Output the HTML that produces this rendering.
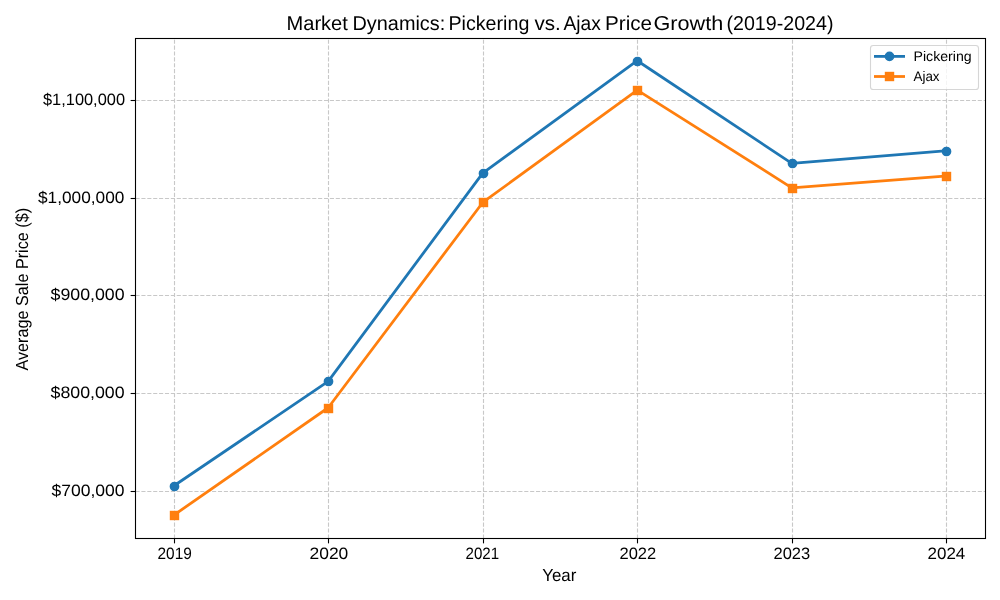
<!DOCTYPE html><html><head><meta charset="utf-8"><style>html,body{margin:0;padding:0;background:#fff;width:1000px;height:600px;overflow:hidden}svg{display:block;will-change:transform}text{font-family:"Liberation Sans", sans-serif;fill:#000;text-rendering:geometricPrecision}</style></head><body>
<svg width="1000" height="600" viewBox="0 0 1000 600">
<rect x="0" y="0" width="1000" height="600" fill="#fff"/>
<g stroke="#c8c8c8" stroke-width="1.11" stroke-dasharray="4.11 1.78" fill="none"><line x1="174.50" y1="538.5" x2="174.50" y2="38.5"/><line x1="328.50" y1="538.5" x2="328.50" y2="38.5"/><line x1="483.50" y1="538.5" x2="483.50" y2="38.5"/><line x1="637.50" y1="538.5" x2="637.50" y2="38.5"/><line x1="792.50" y1="538.5" x2="792.50" y2="38.5"/><line x1="946.50" y1="538.5" x2="946.50" y2="38.5"/><line x1="135.5" y1="491.50" x2="985.5" y2="491.50"/><line x1="135.5" y1="393.50" x2="985.5" y2="393.50"/><line x1="135.5" y1="295.50" x2="985.5" y2="295.50"/><line x1="135.5" y1="198.50" x2="985.5" y2="198.50"/><line x1="135.5" y1="100.50" x2="985.5" y2="100.50"/></g>
<polyline points="173.64,485.95 328.18,381.35 482.73,173.14 637.27,60.73 791.82,163.37 946.36,150.66" fill="none" stroke="#1f77b4" stroke-width="2.78" stroke-linejoin="round" stroke-linecap="square"/>
<g fill="#1f77b4" stroke="#1f77b4" stroke-width="1.39"><circle cx="174.50" cy="486.50" r="4.17"/><circle cx="328.50" cy="381.50" r="4.17"/><circle cx="483.50" cy="173.50" r="4.17"/><circle cx="637.50" cy="61.50" r="4.17"/><circle cx="792.50" cy="163.50" r="4.17"/><circle cx="946.50" cy="151.50" r="4.17"/></g>
<polyline points="173.64,515.27 328.18,407.75 482.73,202.47 637.27,90.05 791.82,187.80 946.36,176.07" fill="none" stroke="#ff7f0e" stroke-width="2.78" stroke-linejoin="round" stroke-linecap="square"/>
<g fill="#ff7f0e" stroke="#ff7f0e" stroke-width="0.4"><rect x="170.00" y="511.00" width="9" height="9"/><rect x="324.00" y="404.00" width="9" height="9"/><rect x="479.00" y="198.00" width="9" height="9"/><rect x="633.00" y="86.00" width="9" height="9"/><rect x="788.00" y="184.00" width="9" height="9"/><rect x="942.00" y="172.00" width="9" height="9"/></g>
<rect x="135.50" y="38.50" width="850.00" height="500.00" fill="none" stroke="#000" stroke-width="1.10"/>
<g stroke="#000" stroke-width="1.10"><line x1="174.50" y1="538.50" x2="174.50" y2="543.36"/><line x1="328.50" y1="538.50" x2="328.50" y2="543.36"/><line x1="483.50" y1="538.50" x2="483.50" y2="543.36"/><line x1="637.50" y1="538.50" x2="637.50" y2="543.36"/><line x1="792.50" y1="538.50" x2="792.50" y2="543.36"/><line x1="946.50" y1="538.50" x2="946.50" y2="543.36"/><line x1="130.64" y1="491.50" x2="135.50" y2="491.50"/><line x1="130.64" y1="393.50" x2="135.50" y2="393.50"/><line x1="130.64" y1="295.50" x2="135.50" y2="295.50"/><line x1="130.64" y1="198.50" x2="135.50" y2="198.50"/><line x1="130.64" y1="100.50" x2="135.50" y2="100.50"/></g>
<rect x="870.50" y="45.50" width="108.00" height="44.00" rx="2.78" ry="2.78" fill="#fff" fill-opacity="0.8" stroke="#cccccc" stroke-opacity="0.8" stroke-width="1.11"/>
<line x1="874.00" y1="56.40" x2="905.00" y2="56.40" stroke="#1f77b4" stroke-width="2.78"/>
<circle cx="889.50" cy="56.40" r="4.17" fill="#1f77b4" stroke="#1f77b4" stroke-width="1.39"/>
<line x1="874.00" y1="76.50" x2="905.00" y2="76.50" stroke="#ff7f0e" stroke-width="2.78"/>
<rect x="885.00" y="72.00" width="9" height="9" fill="#ff7f0e" stroke="#ff7f0e" stroke-width="0.4"/>
<text x="286.50" y="29.93" font-size="20.00" textLength="61.34" lengthAdjust="spacingAndGlyphs">Market</text>
<text x="352.50" y="29.93" font-size="20.00" textLength="92.74" lengthAdjust="spacingAndGlyphs">Dynamics:</text>
<text x="448.50" y="29.93" font-size="20.00" textLength="80.82" lengthAdjust="spacingAndGlyphs">Pickering</text>
<text x="534.50" y="29.93" font-size="20.00" textLength="26.30" lengthAdjust="spacingAndGlyphs">vs.</text>
<text x="563.50" y="29.93" font-size="20.00" textLength="37.27" lengthAdjust="spacingAndGlyphs">Ajax</text>
<text x="605.00" y="29.93" font-size="20.00" textLength="47.06" lengthAdjust="spacingAndGlyphs">Price</text>
<text x="653.50" y="29.93" font-size="20.00" textLength="69.68" lengthAdjust="spacingAndGlyphs">Growth</text>
<text x="726.50" y="29.93" font-size="20.00" textLength="106.92" lengthAdjust="spacingAndGlyphs">(2019-2024)</text>
<text x="51.50" y="496.40" font-size="16.50" textLength="73.10" lengthAdjust="spacingAndGlyphs">$700,000</text>
<text x="50.50" y="398.40" font-size="16.50" textLength="74.11" lengthAdjust="spacingAndGlyphs">$800,000</text>
<text x="50.50" y="300.40" font-size="16.50" textLength="74.11" lengthAdjust="spacingAndGlyphs">$900,000</text>
<text x="38.00" y="203.40" font-size="16.50" textLength="86.42" lengthAdjust="spacingAndGlyphs">$1,000,000</text>
<text x="43.00" y="105.40" font-size="16.50" textLength="82.00" lengthAdjust="spacingAndGlyphs">$1,100,000</text>
<text x="157.50" y="558.60" font-size="16.50" textLength="34.29" lengthAdjust="spacingAndGlyphs">2019</text>
<text x="309.50" y="558.60" font-size="16.50" textLength="38.80" lengthAdjust="spacingAndGlyphs">2020</text>
<text x="465.50" y="558.60" font-size="16.50" textLength="33.58" lengthAdjust="spacingAndGlyphs">2021</text>
<text x="619.50" y="558.60" font-size="16.50" textLength="36.73" lengthAdjust="spacingAndGlyphs">2022</text>
<text x="773.50" y="558.60" font-size="16.50" textLength="36.72" lengthAdjust="spacingAndGlyphs">2023</text>
<text x="927.50" y="558.60" font-size="16.50" textLength="37.80" lengthAdjust="spacingAndGlyphs">2024</text>
<text x="542.25" y="580.85" font-size="17.40" textLength="34.12" lengthAdjust="spacingAndGlyphs">Year</text>
<text x="27.90" y="370.50" font-size="17.40" textLength="162.61" lengthAdjust="spacingAndGlyphs" transform="rotate(-90 27.90 370.50)">Average Sale Price ($)</text>
<text x="913.50" y="60.90" font-size="13.90" textLength="58.18" lengthAdjust="spacingAndGlyphs">Pickering</text>
<text x="913.50" y="80.90" font-size="13.90" textLength="26.07" lengthAdjust="spacingAndGlyphs">Ajax</text>
</svg></body></html>
